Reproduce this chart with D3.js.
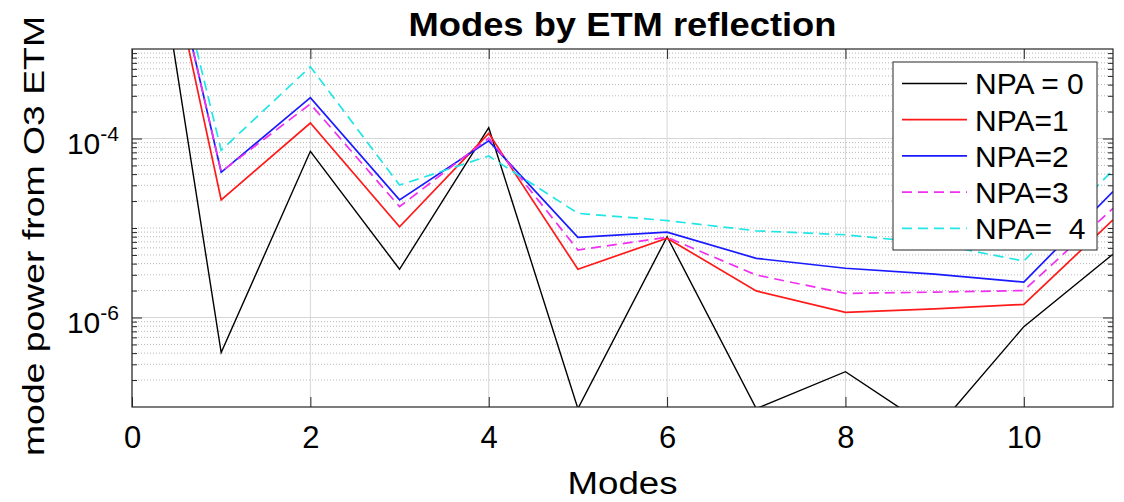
<!DOCTYPE html>
<meta charset="utf-8">
<style>
body { margin: 0; background: #fff; }
text { font-family: "Liberation Sans", Arial, sans-serif; fill: #000; }
.axis path, .axis line { stroke: #262626; }
</style>
<body>
<svg width="1124" height="502"></svg>
<script src="https://cdn.jsdelivr.net/npm/d3@7"></script>
<script>

// data
var modes = [0, 1, 2, 3, 4, 5, 6, 7, 8, 9, 10, 11];
var npa0 = [0.91, 4.05e-7, 7.2e-5, 3.46e-6, 1.32e-4, 9.6e-8, 8.0e-6, 9.6e-8, 2.48e-7, 5.4e-8, 7.9e-7, 5.1e-6];
var npa1 = [0.89, 2.06e-5, 1.49e-4, 1.03e-5, 1.14e-4, 3.46e-6, 7.7e-6, 1.98e-6, 1.14e-6, 1.25e-6, 1.40e-6, 1.23e-5];
var npa2 = [0.89, 4.19e-5, 2.86e-4, 2.06e-5, 9.4e-5, 7.87e-6, 9.0e-6, 4.58e-6, 3.55e-6, 3.05e-6, 2.49e-6, 2.55e-5];
var npa3 = [0.85, 4.25e-5, 2.43e-4, 1.73e-5, 1.01e-4, 5.68e-6, 7.87e-6, 2.98e-6, 1.86e-6, 1.92e-6, 2.0e-6, 1.66e-5];
var npa4 = [0.88, 7.38e-5, 6.34e-4, 3.02e-5, 6.37e-5, 1.46e-5, 1.21e-5, 9.3e-6, 8.4e-6, 6.7e-6, 4.27e-6, 4.44e-5];
var seriesNames = ["NPA = 0", "NPA=1", "NPA=2", "NPA=3", "NPA=  4"];
var xTicks = [0, 2, 4, 6, 8, 10];
var yTicks = [1e-6, 1e-4];
var yTickExps = ["-6", "-4"];

var series = [
  {name: seriesNames[0], values: npa0, color: "#000000", dash: null, width: 1.4},
  {name: seriesNames[1], values: npa1, color: "#ff1a1a", dash: null, width: 1.7},
  {name: seriesNames[2], values: npa2, color: "#1a1aff", dash: null, width: 1.7},
  {name: seriesNames[3], values: npa3, color: "#f030f0", dash: "10,6", width: 1.7},
  {name: seriesNames[4], values: npa4, color: "#22e6e6", dash: "10,6", width: 1.7}
];

var svg = d3.select("svg"),
    margin = {top: 49, right: 11, bottom: 95, left: 132},
    width = +svg.attr("width") - margin.left - margin.right,
    height = +svg.attr("height") - margin.top - margin.bottom;

var x = d3.scaleLinear().domain([0, 11]).range([0, width]),
    y = d3.scaleLog().domain([1e-7, 1e-3]).range([height, 0]);

var g = svg.append("g")
    .attr("transform", "translate(" + margin.left + "," + margin.top + ")");

// minor log ticks (2..9 per decade, plus the unlabeled decades)
var minorTicks = [];
[-7, -6, -5, -4].forEach(function(e) {
  for (var k = 1; k <= 9; k++) {
    var v = k * Math.pow(10, e);
    if (v > 1e-7 && v < 1e-3) minorTicks.push(v);
  }
});
minorTicks = minorTicks.filter(function(v) {
  return yTicks.every(function(t) { return Math.abs(Math.log10(v) - Math.log10(t)) > 1e-9; });
});

// grid
g.append("g").selectAll("line").data(minorTicks).enter().append("line")
    .attr("x1", 0).attr("x2", width)
    .attr("y1", function(d) { return y(d); }).attr("y2", function(d) { return y(d); })
    .attr("stroke", "#b8b8b8").attr("stroke-width", 1).attr("stroke-dasharray", "1,2");

g.append("g").selectAll("line").data(yTicks).enter().append("line")
    .attr("x1", 0).attr("x2", width)
    .attr("y1", function(d) { return y(d); }).attr("y2", function(d) { return y(d); })
    .attr("stroke", "#d6d6d6").attr("stroke-width", 1);

g.append("g").selectAll("line").data(xTicks).enter().append("line")
    .attr("y1", 0).attr("y2", height)
    .attr("x1", function(d) { return x(d); }).attr("x2", function(d) { return x(d); })
    .attr("stroke", "#d6d6d6").attr("stroke-width", 1);

// lines
g.append("clipPath").attr("id", "clip")
  .append("rect").attr("width", width).attr("height", height);

var line = d3.line()
    .x(function(d, i) { return x(modes[i]); })
    .y(function(d) { return y(d); });

g.append("g").attr("clip-path", "url(#clip)")
  .selectAll("path").data(series).enter().append("path")
    .attr("d", function(s) { return line(s.values); })
    .attr("fill", "none")
    .attr("stroke", function(s) { return s.color; })
    .attr("stroke-width", function(s) { return s.width; })
    .attr("stroke-dasharray", function(s) { return s.dash; });

// axes (ticks point inward, mirrored on top and right)
g.append("g")
    .attr("class", "axis")
    .attr("transform", "translate(0," + height + ")")
    .call(d3.axisBottom(x).tickValues(xTicks).tickSize(-10).tickSizeOuter(0).tickPadding(20))
    .call(function(a) { a.selectAll("text").style("font-size", "31px").attr("dy", "0.68em"); });

g.append("g")
    .attr("class", "axis")
    .call(d3.axisTop(x).tickValues(xTicks).tickSize(-10).tickSizeOuter(0).tickFormat(""));

var yAxis = g.append("g")
    .attr("class", "axis")
    .call(d3.axisLeft(y).tickValues(yTicks).tickSize(-10).tickSizeOuter(0).tickFormat(""));

yAxis.selectAll(".tick").append("text")
    .attr("x", -13)
    .attr("dy", "0.5em")
    .attr("text-anchor", "end")
    .style("font-size", "30px")
    .style("fill", "#000")
    .each(function(d, i) {
      var t = d3.select(this);
      t.append("tspan").text("10");
      t.append("tspan").attr("dy", "-0.6em").style("font-size", "21px").text(yTickExps[i]);
    });

g.append("g")
    .attr("class", "axis")
    .call(d3.axisLeft(y).tickValues(minorTicks).tickSize(-5).tickSizeOuter(0).tickFormat(""));

g.append("g")
    .attr("class", "axis")
    .attr("transform", "translate(" + width + ",0)")
    .call(d3.axisRight(y).tickValues(yTicks).tickSize(-10).tickSizeOuter(0).tickFormat(""));

g.append("g")
    .attr("class", "axis")
    .attr("transform", "translate(" + width + ",0)")
    .call(d3.axisRight(y).tickValues(minorTicks).tickSize(-5).tickSizeOuter(0).tickFormat(""));

g.selectAll(".axis path.domain").remove();

// box
g.append("rect")
    .attr("width", width).attr("height", height)
    .attr("fill", "none").attr("stroke", "#262626").attr("stroke-width", 1.2);

// labels
svg.append("text")
    .attr("x", margin.left + width / 2).attr("y", 35.5)
    .attr("text-anchor", "middle")
    .attr("textLength", 428).attr("lengthAdjust", "spacingAndGlyphs")
    .style("font-size", "33px").style("font-weight", "bold")
    .text("Modes by ETM reflection");

svg.append("text")
    .attr("x", margin.left + width / 2).attr("y", 494)
    .attr("text-anchor", "middle")
    .attr("textLength", 110).attr("lengthAdjust", "spacingAndGlyphs")
    .style("font-size", "31px")
    .text("Modes");

svg.append("text")
    .attr("transform", "translate(44," + (margin.top + height / 2 + 8) + ") rotate(-90)")
    .attr("text-anchor", "middle")
    .attr("textLength", 440).attr("lengthAdjust", "spacingAndGlyphs")
    .style("font-size", "30px")
    .text("mode power from O3 ETM");

// legend
var legend = svg.append("g").attr("transform", "translate(893,62)");
legend.append("rect")
    .attr("width", 204).attr("height", 188)
    .attr("fill", "#fff").attr("stroke", "#262626").attr("stroke-width", 1);

var items = legend.selectAll(".item").data(series).enter().append("g")
    .attr("transform", function(d, i) { return "translate(0," + (21.5 + i * 36.2) + ")"; });

items.append("line")
    .attr("x1", 9).attr("x2", 74)
    .attr("stroke", function(s) { return s.color; })
    .attr("stroke-width", function(s) { return s.width; })
    .attr("stroke-dasharray", function(s) { return s.dash; });

items.append("text")
    .attr("x", 82).attr("dy", "0.36em")
    .style("font-size", "30px")
    .attr("xml:space", "preserve")
    .text(function(s) { return s.name; });

</script>
</body>
